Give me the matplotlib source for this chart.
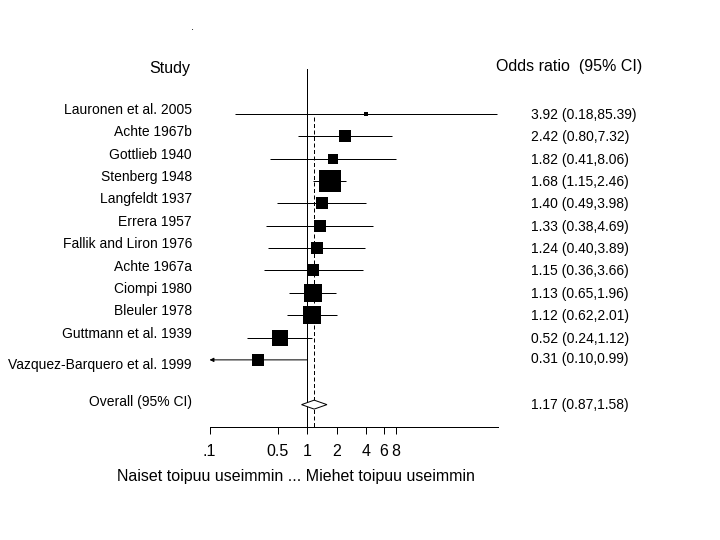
"""
Forest plot: odds ratios (95% CI) for recovery, men vs women.
"""
import matplotlib
matplotlib.use("Agg")
import matplotlib.pyplot as plt
from matplotlib.transforms import blended_transform_factory

plt.rcParams['font.family'] = ['Liberation Sans', 'DejaVu Sans']

# Study data
studies = ["Lauronen et al. 2005", "Achte 1967b", "Gottlieb 1940", "Stenberg 1948",
           "Langfeldt 1937", "Errera 1957", "Fallik and Liron 1976", "Achte 1967a",
           "Ciompi 1980", "Bleuler 1978", "Guttmann et al. 1939",
           "Vazquez-Barquero et al. 1999"]
odds = [3.92, 2.42, 1.82, 1.68, 1.40, 1.33, 1.24, 1.15, 1.13, 1.12, 0.52, 0.31]
ci_low = [0.18, 0.80, 0.41, 1.15, 0.49, 0.38, 0.40, 0.36, 0.65, 0.62, 0.24, 0.10]
ci_high = [85.39, 7.32, 8.06, 2.46, 3.98, 4.69, 3.89, 3.66, 1.96, 2.01, 1.12, 0.99]
# relative study weight, shown as square side (px)
weights = [5, 12.5, 10, 22.7, 12.7, 12, 12, 11.3, 18.7, 18.7, 15.7, 11.7]

overall = 1.17
overall_low = 0.87
overall_high = 1.58

tick_vals = [0.1, 0.5, 1, 2, 4, 6, 8]
tick_labels = [".1", "0.5", "1", "2", "4", "6", "8"]

fig = plt.figure(figsize=(7.2, 5.4), dpi=100)
fig.patch.set_facecolor('white')
ax = fig.add_axes([209.5 / 720, 1 - 427 / 540, (498 - 209.5) / 720, (427 - 69) / 540])

px = 0.72  # one pixel in points
ax.set_xscale('log')
ax.set_xlim(0.1, 88)
ax.set_ylim(14, -2)

rows = list(range(len(studies)))
overall_row = 13

ax.axvline(1, color='black', lw=1.0 * px, zorder=1)
ax.vlines(overall, 0.13, 14, colors='black', lw=1.0 * px, linestyles=(0, (4, 2.5)), zorder=1)

for i, (o, lo, hi, w) in enumerate(zip(odds, ci_low, ci_high, weights)):
    if lo <= 0.1:
        # CI truncated at the axis limit -> arrow
        ax.annotate('', xy=(0.1, rows[i]), xytext=(hi, rows[i]), annotation_clip=False,
                    arrowprops=dict(arrowstyle='-|>', lw=1.0 * px, color='black',
                                    mutation_scale=6, shrinkA=0, shrinkB=0))
    else:
        ax.hlines(rows[i], lo, hi, colors='black', lw=1.0 * px, zorder=2)
    ax.plot([o], [rows[i]], marker='s', markersize=w * px, color='black',
            markeredgewidth=0, zorder=3)

# overall diamond
h = 0.2
ax.fill([overall_low, overall, overall_high, overall],
        [overall_row, overall_row - h, overall_row, overall_row + h],
        facecolor='white', edgecolor='black', lw=1.0 * px, zorder=3)

for s in ['top', 'right', 'left']:
    ax.spines[s].set_visible(False)
ax.spines['bottom'].set_linewidth(1.0 * px)
ax.set_yticks([])
ax.xaxis.set_minor_locator(matplotlib.ticker.NullLocator())
ax.set_xticks(tick_vals)
ax.set_xticklabels(tick_labels, fontsize=11.5)
ax.tick_params(axis='x', length=5, width=1.0 * px, pad=7)

# text columns
tr = blended_transform_factory(fig.transFigure, ax.transData)
label_x = 192 / 720
or_x = 531 / 720
for i, name in enumerate(studies):
    dy = 0.22 if i == len(studies) - 1 else -0.17
    ax.text(label_x, rows[i] + dy, name, transform=tr, ha='right', va='center',
            fontsize=10, clip_on=False)
    ax.text(or_x, rows[i] + (-0.05 if i == len(studies) - 1 else 0.05),
            f"{odds[i]:.2f} ({ci_low[i]:.2f},{ci_high[i]:.2f})",
            transform=tr, ha='left', va='center', fontsize=10, clip_on=False)

ax.text(label_x, overall_row - 0.1, "Overall (95% CI)", transform=tr, ha='right',
        va='center', fontsize=10, clip_on=False)
ax.text(or_x, overall_row, f"{overall:.2f} ({overall_low:.2f},{overall_high:.2f})",
        transform=tr, ha='left', va='center', fontsize=10, clip_on=False)

fig.text(170 / 720, 1 - 68 / 540, "Study", ha='center', va='center', fontsize=11.5)
fig.text(496 / 720, 1 - 67 / 540, "Odds ratio  (95% CI)", ha='left', va='center', fontsize=11.5)
fig.text(192 / 720, 1 - 27 / 540, ".", ha='center', va='center', fontsize=8)
fig.text(296 / 720, 1 - 476 / 540, "Naiset toipuu useimmin ... Miehet toipuu useimmin",
         ha='center', va='center', fontsize=11.5)

plt.savefig("out.png", dpi=100)
